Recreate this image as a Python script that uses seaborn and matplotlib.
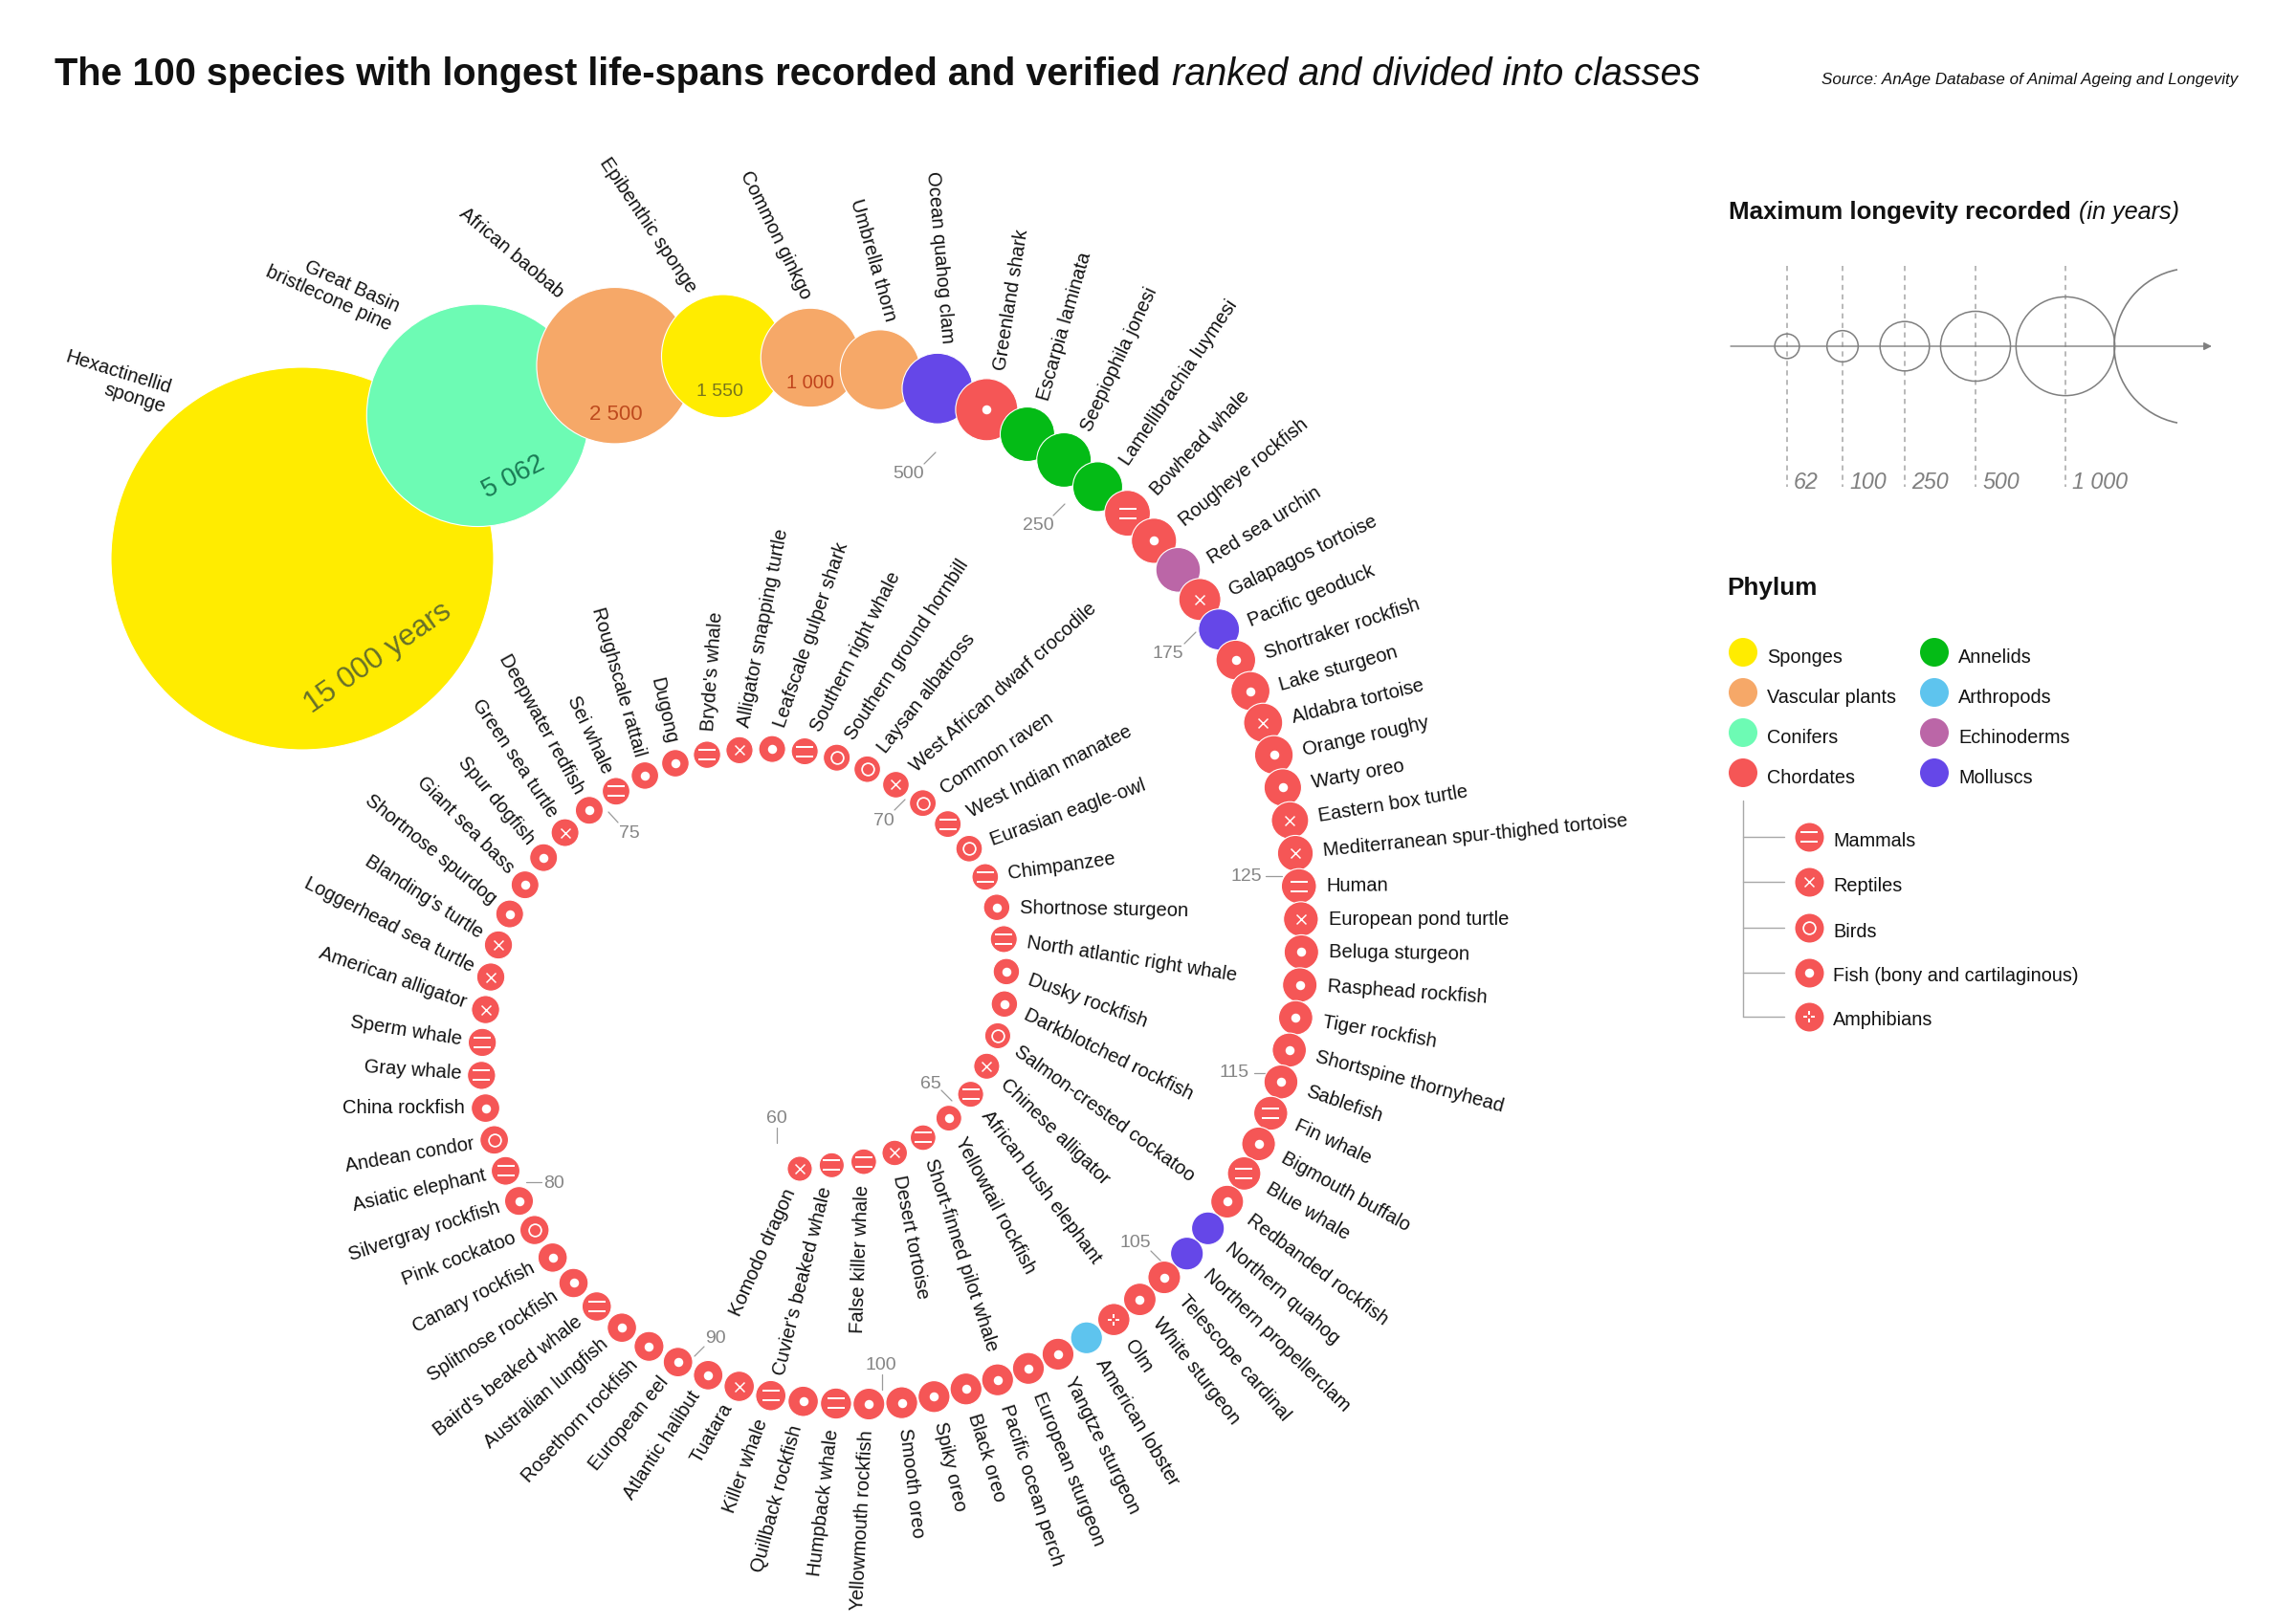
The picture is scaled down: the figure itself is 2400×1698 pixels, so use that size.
import numpy as np
import pandas as pd
import matplotlib
matplotlib.use('Agg')
import matplotlib.pyplot as plt
from matplotlib.path import Path
from matplotlib.patches import Arc
import seaborn as sns

# ============================ DATA ============================

species = [
    'Hexactinellid\nsponge', 'Great Basin\nbristlecone pine', 'African baobab', 'Epibenthic sponge', 'Common ginkgo',
    'Umbrella thorn', 'Ocean quahog clam', 'Greenland shark', 'Escarpia laminata', 'Seepiophila jonesi',
    'Lamellibrachia luymesi', 'Bowhead whale', 'Rougheye rockfish', 'Red sea urchin', 'Galapagos tortoise',
    'Pacific geoduck', 'Shortraker rockfish', 'Lake sturgeon', 'Aldabra tortoise', 'Orange roughy',
    'Warty oreo', 'Eastern box turtle', 'Mediterranean spur-thighed tortoise', 'Human', 'European pond turtle',
    'Beluga sturgeon', 'Rasphead rockfish', 'Tiger rockfish', 'Shortspine thornyhead', 'Sablefish',
    'Fin whale', 'Bigmouth buffalo', 'Blue whale', 'Redbanded rockfish', 'Northern quahog',
    'Northern propellerclam', 'Telescope cardinal', 'White sturgeon', 'Olm', 'American lobster',
    'Yangtze sturgeon', 'European sturgeon', 'Pacific ocean perch', 'Black oreo', 'Spiky oreo',
    'Smooth oreo', 'Yellowmouth rockfish', 'Humpback whale', 'Quillback rockfish', 'Killer whale',
    'Tuatara', 'Atlantic halibut', 'European eel', 'Rosethorn rockfish', 'Australian lungfish',
    "Baird's beaked whale", 'Splitnose rockfish', 'Canary rockfish', 'Pink cockatoo', 'Silvergray rockfish',
    'Asiatic elephant', 'Andean condor', 'China rockfish', 'Gray whale', 'Sperm whale',
    'American alligator', 'Loggerhead sea turtle', "Blanding's turtle", 'Shortnose spurdog', 'Giant sea bass',
    'Spur dogfish', 'Green sea turtle', 'Deepwater redfish', 'Sei whale', 'Roughscale rattail',
    'Dugong', "Bryde's whale", 'Alligator snapping turtle', 'Leafscale gulper shark', 'Southern right whale',
    'Southern ground hornbill', 'Laysan albatross', 'West African dwarf crocodile', 'Common raven', 'West Indian manatee',
    'Eurasian eagle-owl', 'Chimpanzee', 'Shortnose sturgeon', 'North atlantic right whale', 'Dusky rockfish',
    'Darkblotched rockfish', 'Salmon-crested cockatoo', 'Chinese alligator', 'African bush elephant', 'Yellowtail rockfish',
    'Short-finned pilot whale', 'Desert tortoise', 'False killer whale', "Cuvier's beaked whale", 'Komodo dragon',
]

longevity = [
    15000, 5062, 2500, 1550, 1000, 650, 507, 392, 300, 300,
    250, 211, 205, 200, 177, 168, 157, 152, 152, 149,
    140, 138, 127, 122, 120, 118, 118, 116, 115, 114,
    114, 112, 110, 106, 106, 106, 105, 104, 102, 100,
    100, 100, 100, 100, 100, 100, 99, 95, 90, 90,
    90, 85, 85, 87, 84, 84, 84, 84, 83, 81,
    80, 79, 79, 77, 77, 77, 77, 77, 75, 75,
    75, 75, 75, 74, 73, 73, 72, 71, 70, 70,
    70, 68, 68, 69, 69, 68, 68, 67, 70, 67,
    67, 65, 65, 65, 64, 63, 62, 63, 60, 60,
]

# S sponge, P vascular plant, C conifer, H chordate, A annelid, T arthropod, E echinoderm, M mollusc
phylum_codes = ('S C P S P P M H A A '
                'A H H E H M H H H H '
                'H H H H H H H H H H '
                'H H H H M M H H H T '
                'H H H H H H H H H H '
                'H H H H H H H H H H '
                'H H H H H H H H H H '
                'H H H H H H H H H H '
                'H H H H H H H H H H '
                'H H H H H H H H H H').split()

# m mammal, r reptile, b bird, f fish, a amphibian, - none
class_codes = ('- - - - - - - f - - '
               '- m f - r - f f r f '
               'f r r m r f f f f f '
               'm f m f - - f f a - '
               'f f f f f f f m f m '
               'r f f f f m f f b f '
               'm b f m m r r r f f '
               'f r f m f f m r f m '
               'b b r b m b m f m f '
               'f b r m f m r m m r').split()

# Direction in which each name leaves its bubble (degrees, counter-clockwise from east)
label_dir = [
    163, 156, 140, 124, 116, 106, 95, 81, 74, 65,
    56, 47, 39, 32, 26, 22.5, 18, 16, 14, 12.5,
    10.5, 9.4, 5.6, 0.5, 0, -1, -4, -10, -15, -19,
    -25, -29, -31, -37, -41, -44, -49, -52, -56, -59,
    -64, -68, -72, -73, -77, -83, -93, -97, -105, -110,
    -120, -123, -129, -133, -139, -142, -147, -153, -159, -162,
    -167, -170, -180, 176, 171, 161, 153, 147, 141, 135,
    130, 124, 119, 115, 106, 103, 86, 79, 71, 63,
    57, 52, 42, 34, 27, 20, 8, -1, -9, -20,
    -26, -36, -44, -53, -62, -72, -79, -92, -104, -114,
]
# How far the name's anchor is swung back from that direction
label_swing = [33, 26, 13, 9, 22, 28, 17, 10, 10, 12, 15, 9, 5, 14, 11, 8, 6, 5, 4, 3, 2, 1]

phylum_names = ['Sponges', 'Vascular plants', 'Conifers', 'Chordates', 'Annelids', 'Arthropods', 'Echinoderms', 'Molluscs']
phylum_keys = ['S', 'P', 'C', 'H', 'A', 'T', 'E', 'M']
phylum_colors = ['#FFEC00', '#F6A868', '#6DFBB4', '#F55656', '#04BB16', '#5EC4EE', '#BB66A7', '#6547E8']

class_names = ['Mammals', 'Reptiles', 'Birds', 'Fish (bony and cartilaginous)', 'Amphibians']
class_keys = ['m', 'r', 'b', 'f', 'a']

scale_values = [62, 100, 250, 500, 1000]
scale_labels = ['62', '100', '250', '500', '1 000']

# value text, tick start, tick end, text position
ticks = [
    ('500', (966, 485), (978, 473), (950, 495)),
    ('250', (1101, 539), (1113, 527), (1085, 549)),
    ('175', (1238, 673), (1250, 661), (1221, 683)),
    ('125', (1323, 916), (1340, 916), (1303, 916)),
    ('115', (1311, 1122), (1326, 1122), (1290, 1121)),
    ('105', (1203, 1308), (1215, 1320), (1187, 1300)),
    ('100', (922, 1437), (922, 1453), (921, 1427)),
    ('90', (736, 1408), (726, 1418), (748, 1399)),
    ('80', (566, 1236), (550, 1236), (579, 1237)),
    ('75', (646, 860), (636, 849), (658, 871)),
    ('70', (935, 847), (946, 836), (924, 858)),
    ('65', (984, 1140), (995, 1151), (973, 1134)),
    ('60', (812, 1179), (812, 1195), (812, 1169)),
]

# ============================ LAYOUT ============================

PX_PER_SQRT_YEAR = 1.633

# spiral the bubbles are threaded on
guide = np.array([
    (316, 584), (500, 434), (644, 382), (847, 374), (982, 407), (1077, 456), (1181, 539), (1257, 631),
    (1309, 727), (1342, 828), (1358, 930), (1358, 1037), (1336, 1141), (1296, 1235), (1235, 1317),
    (1161, 1382), (1072, 1432), (973, 1461), (906, 1468), (801, 1458), (674, 1405), (577, 1314),
    (517, 1193), (504, 1092), (533, 955), (615, 848), (735, 790), (874, 792), (989, 860),
    (1041, 946), (1050, 1049), (1014, 1145), (934, 1206), (836, 1222),
], dtype=float)


def catmull_rom(points, n=40):
    pts = np.vstack([2 * points[0] - points[1], points, 2 * points[-1] - points[-2]])
    out = []
    for i in range(1, len(pts) - 2):
        p0, p1, p2, p3 = pts[i - 1], pts[i], pts[i + 1], pts[i + 2]
        t = np.linspace(0, 1, n, endpoint=False)[:, None]
        out.append(0.5 * (2 * p1 + (p2 - p0) * t + (2 * p0 - 5 * p1 + 4 * p2 - p3) * t ** 2
                          + (3 * p1 - p0 - 3 * p2 + p3) * t ** 3))
    out.append(points[-1:])
    return np.vstack(out)


curve = catmull_rom(guide)
curve_s = np.concatenate([[0], np.cumsum(np.hypot(*np.diff(curve, axis=0).T))])

radius = PX_PER_SQRT_YEAR * np.sqrt(np.array(longevity, dtype=float))
pair_sum = radius[:-1] + radius[1:]
steps = np.interp(pair_sum, [25, 28.5, 33, 36, 40, 45, 50, 61, 93, 145, 197, 316],
                  [33.5, 34.5, 34.35, 34.5, 35.5, 38.5, 42, 50, 74, 113, 153, 237])
along = np.concatenate([[0], np.cumsum(steps)])
along[22:] = along[22] + (along[22:] - along[22]) * (curve_s[-1] - along[22]) / (along[-1] - along[22])

df = pd.DataFrame({
    'species': species,
    'longevity': longevity,
    'phylum': phylum_codes,
    'cls': class_codes,
    'x': np.interp(along, curve_s, curve[:, 0]),
    'y': np.interp(along, curve_s, curve[:, 1]),
    'r': radius,
    'dir': label_dir,
})
df['swing'] = label_swing + [0] * (len(df) - len(label_swing))


def area(value, k=1.633):
    # scatter size in pt^2 for a bubble drawn at 200 dpi
    return (2 * k * np.sqrt(value) * 72 / 200) ** 2


def bars(segments, thick):
    verts, codes = [], []
    for x0, y0, x1, y1 in segments:
        ux, uy = x1 - x0, y1 - y0
        n = np.hypot(ux, uy)
        nx, ny = -uy / n * thick / 2, ux / n * thick / 2
        verts += [(x0 + nx, y0 + ny), (x1 + nx, y1 + ny), (x1 - nx, y1 - ny), (x0 - nx, y0 - ny), (x0 + nx, y0 + ny)]
        codes += [Path.MOVETO, Path.LINETO, Path.LINETO, Path.LINETO, Path.CLOSEPOLY]
    return Path(verts, codes)


two_lines = bars([(-1, -0.6, 1, -0.6), (-1, 0.6, 1, 0.6)], 0.22)
cross = bars([(-1, -1, 1, 1), (-1, 1, 1, -1)], 0.3)
plus = bars([(-1, 0, -0.3, 0), (0.3, 0, 1, 0), (0, -1, 0, -0.3), (0, 0.3, 0, 1)], 0.28)
RED = phylum_colors[3]


def pt2(px):
    return (px * 72 / 200) ** 2


def draw_glyphs(data):
    common = dict(x='x', y='y', linewidth=0, legend=False, zorder=4, ax=ax)
    for key, marker, size in [('m', two_lines, 18), ('r', cross, 11), ('a', plus, 12)]:
        sub = data[data['cls'] == key]
        sns.scatterplot(data=sub, marker=marker, s=pt2(size), color='white', **common)
    sub = data[data['cls'] == 'f']
    sns.scatterplot(data=sub, marker='o', s=pt2(9.5), color='white', **common)
    sub = data[data['cls'] == 'b']
    sns.scatterplot(data=sub, marker='o', s=pt2(14.5), color='white', **common)
    sns.scatterplot(data=sub, marker='o', s=pt2(11), color=RED, **common)


# ============================ FIGURE ============================

sns.set_theme(style='white')
plt.rcParams['font.family'] = ['Liberation Sans', 'DejaVu Sans']

fig = plt.figure(figsize=(12, 8.49), dpi=200)
ax = fig.add_axes([0, 0, 1, 1])

palette = dict(zip(phylum_keys, phylum_colors))
sns.scatterplot(data=df, x='x', y='y', hue='phylum', palette=palette, size='longevity',
                sizes=(area(60, 1.69), area(15000)), size_norm=(60, 15000),
                edgecolor='white', linewidth=0.4, legend=False, zorder=3, ax=ax)
draw_glyphs(df)

for row in df.itertuples():
    a = np.radians(row.dir - row.swing)
    if row.Index < 2:
        gap = 19
    elif 50 <= row.Index < 76:
        gap = 7
    else:
        gap = 11
    ax_x = row.x + (row.r + gap) * np.cos(a)
    ax_y = row.y - (row.r + gap) * np.sin(a)
    if np.cos(np.radians(row.dir)) >= 0:
        rot, ha = row.dir, 'left'
    else:
        rot, ha = row.dir - 180 if row.dir > 0 else row.dir + 180, 'right'
    ax.text(ax_x, ax_y, row.species, rotation=rot, ha=ha, va='center', rotation_mode='anchor',
            multialignment='right', fontsize=7.25, color='#111111', linespacing=1.15, zorder=5)

# values printed on the largest bubbles
big_labels = [
    (0, '15 000 years', 79, 104, 35, 11.2, '#66702A'),
    (1, '5 062', 37, 65, 27, 10, '#1A7A55'),
    (2, '2 500', 1, 51, 0, 8, '#BE4A1E'),
    (3, '1 550', -3, 37, 0, 7, '#77751C'),
    (4, '1 000', 0, 26, 0, 7.2, '#C0431C'),
]
for idx, txt, dx, dy, rot, size, col in big_labels:
    ax.text(df.x[idx] + dx, df.y[idx] + dy, txt, rotation=rot, ha='center', va='center',
            fontsize=size, color=col, zorder=5)

for txt, p0, p1, pos in ticks:
    ax.plot([p0[0], p1[0]], [p0[1], p1[1]], color='#9A9A9A', lw=0.45, zorder=2)
    ax.text(pos[0], pos[1], txt, ha='center', va='center', fontsize=7, color='#858585')

# title and source
ax.text(57, 78, 'The 100 species with longest life-spans recorded and verified', fontsize=14.27,
        fontweight='bold', va='center', color='#111111')
ax.text(1225, 78, 'ranked and divided into classes', fontsize=14.27, fontstyle='italic', va='center', color='#111111')
ax.text(2339, 83, 'Source: AnAge Database of Animal Ageing and Longevity', fontsize=6.13, fontstyle='italic',
        ha='right', va='center', color='#111111')

# longevity scale
GREY = '#7F7F7F'
ax.text(1807, 222, 'Maximum longevity recorded', fontsize=9.3, fontweight='bold', va='center', color='#111111')
ax.text(2173, 222, '(in years)', fontsize=9.1, fontstyle='italic', va='center', color='#111111')
ax.annotate('', xy=(2312, 362), xytext=(1809, 362),
            arrowprops=dict(arrowstyle='-|>', color=GREY, lw=0.5, mutation_scale=6, shrinkA=0, shrinkB=0))
scale_x = [1868, 1926, 1991, 2065, 2159]
scale_df = pd.DataFrame({'x': scale_x, 'y': [362] * 5, 'value': scale_values})
sns.scatterplot(data=scale_df, x='x', y='y', size='value', sizes=(area(62), area(1000)),
                size_norm=(62, 1000), facecolor='none', edgecolor=GREY, linewidth=0.55,
                legend=False, zorder=3, ax=ax)
for xv, lab in zip(scale_x, scale_labels):
    ax.plot([xv, xv], [278, 509], color='#A5A5A5', lw=0.55, ls=(0, (3.5, 3)), zorder=2)
    ax.text(xv + 7, 504, lab, fontsize=8.4, fontstyle='italic', color=GREY, va='center')
ax.add_patch(Arc((2291.6, 362), 163.2, 163.2, theta1=101, theta2=259, color=GREY, lw=0.6))

# phylum legend
ax.text(1805, 615, 'Phylum', fontsize=9.4, fontweight='bold', va='center', color='#111111')
leg_x = [1822] * 4 + [2022] * 4
leg_y = [682, 724, 766, 808] * 2
leg_df = pd.DataFrame({'x': leg_x, 'y': leg_y, 'phylum': phylum_keys})
sns.scatterplot(data=leg_df, x='x', y='y', hue='phylum', palette=palette, s=pt2(30), linewidth=0,
                legend=False, zorder=3, ax=ax)
for xv, yv, name in zip(leg_x, leg_y, phylum_names):
    ax.text(xv + 25, yv + 5, name, fontsize=7.15, va='center', color='#111111')

# class legend
cls_y = [875, 922, 970, 1017, 1063]
cls_df = pd.DataFrame({'x': [1891] * 5, 'y': cls_y, 'cls': class_keys})
sns.scatterplot(data=cls_df, x='x', y='y', s=pt2(30), color=RED, linewidth=0, legend=False, zorder=3, ax=ax)
draw_glyphs(cls_df)
ax.plot([1822, 1822], [837, 1063], color='#A8A8A8', lw=0.5)
for yv, name in zip(cls_y, class_names):
    ax.plot([1822, 1865], [yv, yv], color='#A8A8A8', lw=0.5)
    ax.text(1916, yv + 4, name, fontsize=7.15, va='center', color='#111111')

ax.set_xlim(0, 2400)
ax.set_ylim(1698, 0)
ax.axis('off')
fig.savefig('out.png', dpi=200, facecolor='white')
